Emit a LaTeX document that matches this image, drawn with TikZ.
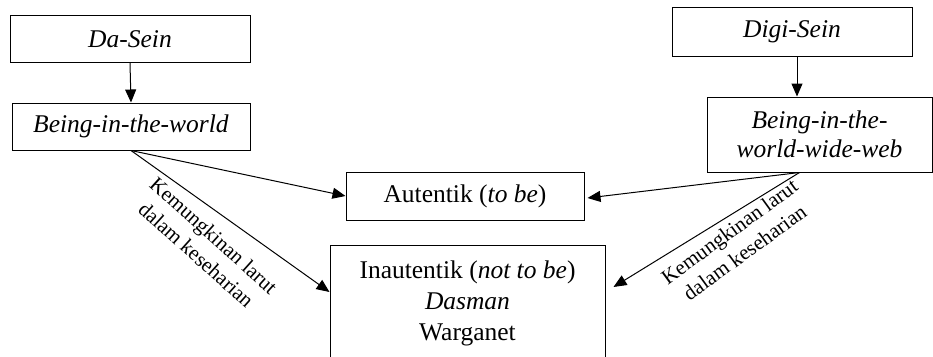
\documentclass[tikz,border=0pt]{standalone}
\usepackage{fontspec}
\setmainfont{Liberation Serif}
\usetikzlibrary{arrows.meta}
\begin{document}
\begin{tikzpicture}[x=1pt,y=-1pt,
  box/.style={draw, line width=1pt, inner sep=0pt, align=center, font=\fontsize{25.5}{30}\selectfont},
  arr/.style={line width=1pt, -{Triangle[length=13pt,width=11pt]}},
  lbl/.style={align=center, inner sep=0pt, font=\fontsize{21}{26}\selectfont}]
\useasboundingbox (0,0) rectangle (933,356);
\clip (0,0) rectangle (933,356);
\fill[white] (0,0) rectangle (933,356);
\node[box, minimum width=240pt, minimum height=47pt] (da) at (130,39) {\textit{Da-Sein}};
\node[box, minimum width=238pt, minimum height=47pt] (biw) at (131,126.5) {\textit{Being-in-the-world}};
\node[box, minimum width=240pt, minimum height=49pt] (digi) at (792,31.5) {\textit{Digi-Sein}};
\node[box, minimum width=225pt, minimum height=75pt, font=\fontsize{25.5}{28.5}\selectfont] (www) at (819.5,134.5) {\textit{Being-in-the-}\\\textit{world-wide-web}};
\node[box, minimum width=238pt, minimum height=48pt] (aut) at (465,196) {Autentik (\textit{to be})};
\node[box, minimum width=275pt, minimum height=116pt, font=\fontsize{25.5}{31}\selectfont] (inau) at (467.5,303) {Inautentik (\textit{not to be})\\\textit{Dasman}\\Warganet};
\draw[arr] (da.south) -- (biw.north);
\draw[arr] ([xshift=5pt]digi.south) -- ([xshift=5pt]digi.south |- www.north);
\draw[arr] (biw.south) -- (aut.west);
\draw[arr] (biw.south) -- ([yshift=11pt]inau.west);
\draw[arr] ([xshift=-20pt]www.south) -- ([xshift=3pt,yshift=-2pt]aut.east);
\draw[arr] ([xshift=-20pt]www.south) -- ([xshift=8pt,yshift=16pt]inau.east);
\node[lbl, rotate=-42] (l1) at (205,245) {Kemungkinan larut\\dalam keseharian};
\node[lbl, rotate=36] (l2) at (737,242) {Kemungkinan larut\\dalam keseharian};
\end{tikzpicture}
\end{document}
